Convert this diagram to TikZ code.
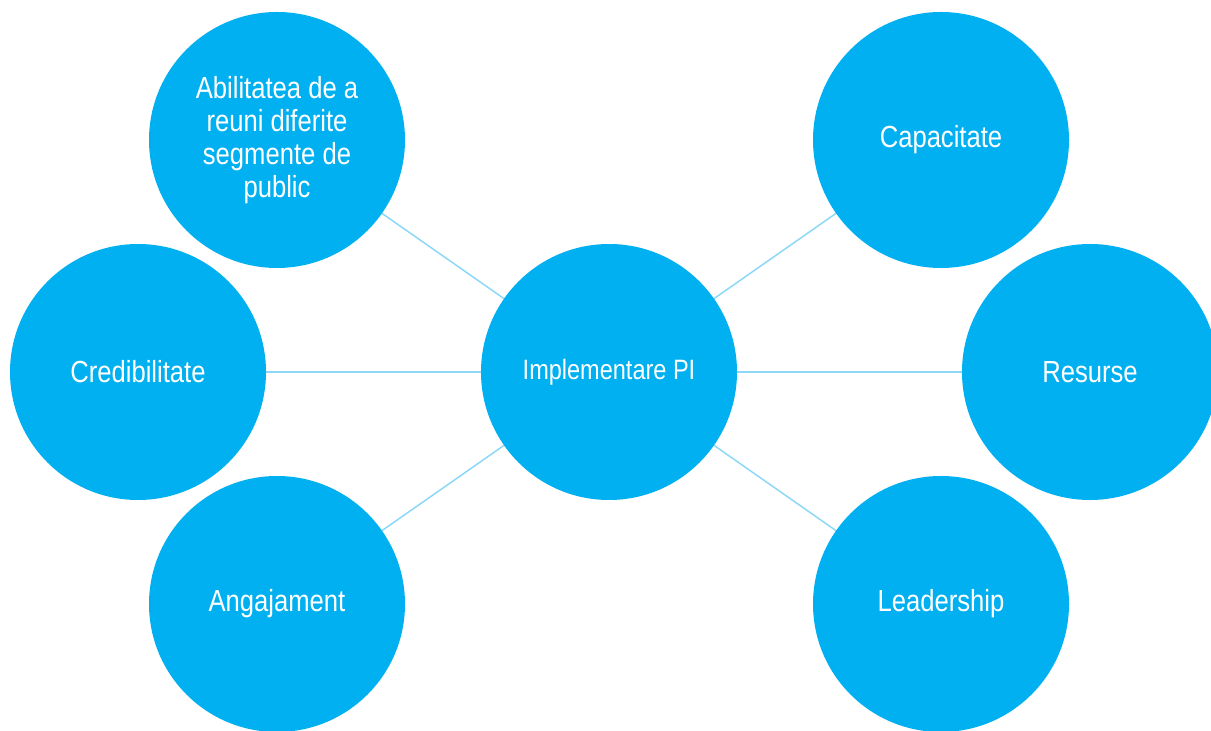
\documentclass[tikz,border=0pt]{standalone}
\usepackage{fontspec}
\newfontfamily\nodefont{Liberation Sans}[FakeStretch=0.84]
\definecolor{bubble}{HTML}{00B0F0}
\definecolor{link}{HTML}{8CD8F6}
\begin{document}
\begin{tikzpicture}[x=1pt,y=1pt,
  bub/.style={circle,fill=bubble,draw=none,minimum size=256pt,inner sep=0pt,
    align=center,text=white,font=\nodefont\fontsize{30.5}{33}\selectfont},
  hub/.style={bub,font=\nodefont\fontsize{28}{31}\selectfont},
  conn/.style={draw=link,line width=1.5pt}]
\useasboundingbox (0,0) rectangle (1211,731);
\begin{scope}
\clip (0,0) rectangle (1211,731);
\coordinate (cC) at (609,359);
\coordinate (cA) at (277,591);
\coordinate (cCr) at (138,359);
\coordinate (cAn) at (277,127);
\coordinate (cCa) at (941,591);
\coordinate (cR) at (1090,359);
\coordinate (cL) at (941,127);
\draw[conn] (cC) -- (cA);
\draw[conn] (cC) -- (cCr);
\draw[conn] (cC) -- (cAn);
\draw[conn] (cC) -- (cCa);
\draw[conn] (cC) -- (cR);
\draw[conn] (cC) -- (cL);
\node[hub] (center) at (cC) {Implementare PI};
\node[bub] (abil) at (cA) {Abilitatea de a\\reuni diferite\\segmente de\\public};
\node[bub] (cred) at (cCr) {Credibilitate};
\node[bub] (anga) at (cAn) {Angajament};
\node[bub] (capa) at (cCa) {Capacitate};
\node[bub] (resu) at (cR) {Resurse};
\node[bub] (lead) at (cL) {Leadership};
\end{scope}
\end{tikzpicture}
\end{document}
